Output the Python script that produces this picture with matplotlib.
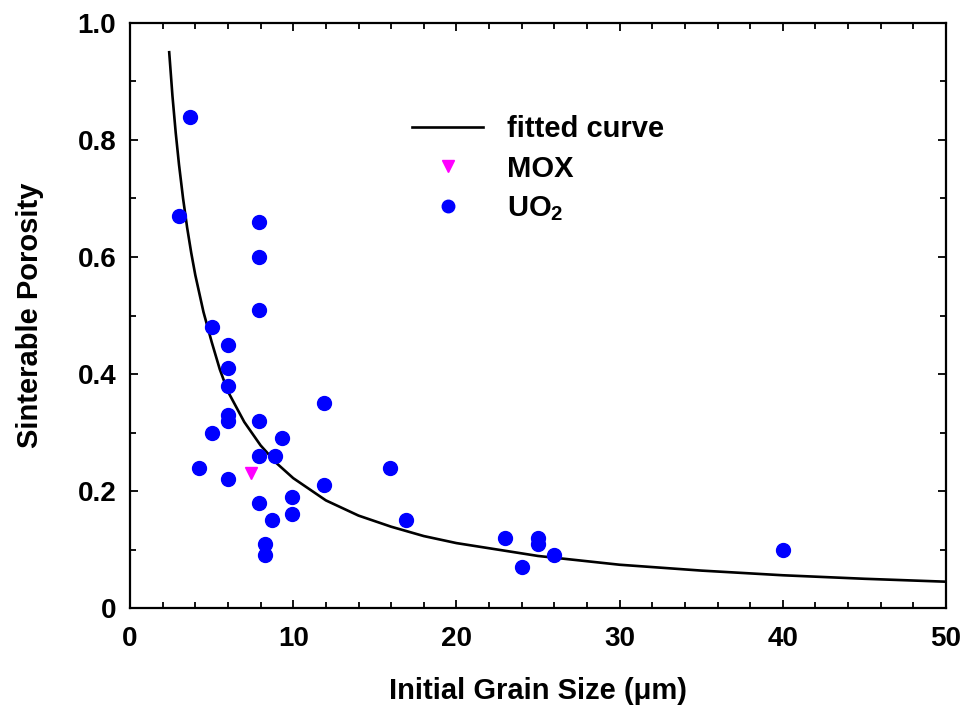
import numpy as np
import matplotlib
matplotlib.use("Agg")
import matplotlib.pyplot as plt
from matplotlib.ticker import MultipleLocator

plt.rcParams.update({"font.family": "Liberation Sans", "font.weight": "bold",
                     "mathtext.fontset": "custom",
                     "mathtext.rm": "Liberation Sans:bold",
                     "mathtext.bf": "Liberation Sans:bold"})

# UO2 data points (initial grain size in um, sinterable porosity)
uo2_x = [3.7, 3.0, 4.2, 5.0, 5.0, 6.0, 6.0, 6.0, 6.0, 6.0, 6.0,
         7.9, 7.9, 7.9, 7.9, 7.9, 7.9, 8.3, 8.3, 8.7, 8.9, 9.3,
         9.9, 9.9, 11.9, 11.9, 15.9, 16.9, 23.0, 24.0, 25.0, 25.0, 26.0, 40.0]
uo2_y = [0.84, 0.67, 0.24, 0.48, 0.30, 0.45, 0.41, 0.38, 0.33, 0.32, 0.22,
         0.66, 0.60, 0.51, 0.32, 0.26, 0.18, 0.11, 0.09, 0.15, 0.26, 0.29,
         0.19, 0.16, 0.35, 0.21, 0.24, 0.15, 0.12, 0.07, 0.12, 0.11, 0.09, 0.10]

# MOX point
mox_x = [7.4]
mox_y = [0.23]

# fitted curve
fit_x = [2.4, 2.6, 2.8, 3.0, 3.25, 3.5, 3.75, 4.0, 4.5, 5.0, 5.5, 6.0, 7.0, 8.0, 9.0, 10.0,
         12.0, 14.0, 16.0, 18.0, 20.0, 25.0, 30.0, 35.0, 40.0, 45.0, 50.0]
fit_y = [0.950, 0.875, 0.812, 0.758, 0.700, 0.650, 0.607, 0.569, 0.506, 0.455, 0.408, 0.370,
         0.318, 0.278, 0.247, 0.222, 0.184, 0.158, 0.139, 0.123, 0.111, 0.089, 0.074,
         0.064, 0.056, 0.050, 0.045]

fig = plt.figure(figsize=(9.64, 7.16), dpi=100)
ax = fig.add_axes([0.1349, 0.1508, 0.8464, 0.8171])

ax.plot(fit_x, fit_y, color="black", lw=1.9, label="fitted curve", zorder=2)
ax.plot(mox_x, mox_y, ls="none", marker="v", ms=9, color="#ff00ff", label="MOX", zorder=3)
ax.plot(uo2_x, uo2_y, ls="none", marker="o", ms=10, color="#0000ff",
        label=r"UO$_\mathbf{2}$", zorder=3)

ax.set_xlim(0, 50)
ax.set_ylim(0, 1.0)
ax.xaxis.set_major_locator(MultipleLocator(10))
ax.xaxis.set_minor_locator(MultipleLocator(2))
ax.yaxis.set_major_locator(MultipleLocator(0.2))
ax.yaxis.set_minor_locator(MultipleLocator(0.1))
ax.set_yticks([0, 0.2, 0.4, 0.6, 0.8, 1.0])
ax.set_yticklabels(["0", "0.2", "0.4", "0.6", "0.8", "1.0"])

ax.tick_params(which="both", direction="in", top=True, right=True, width=1.3)
ax.tick_params(which="major", length=6, labelsize=20)
ax.tick_params(axis="x", which="major", pad=13)
ax.tick_params(axis="y", which="major", pad=10)
ax.tick_params(which="minor", length=4)
for s in ax.spines.values():
    s.set_linewidth(1.6)

ax.set_xlabel("Initial Grain Size (\u03bcm)", fontsize=21, fontweight="bold", labelpad=18)
ax.set_ylabel("Sinterable Porosity", fontsize=21, fontweight="bold", labelpad=24)

ax.legend(loc="upper left", bbox_to_anchor=(0.3456, 0.843), frameon=False,
          prop={"size": 21, "weight": "bold"}, handlelength=2.45, labelspacing=0.4,
          handletextpad=0.8, borderpad=0, borderaxespad=0, markerscale=0.9)

fig.savefig("out.png", dpi=100, facecolor="white")
